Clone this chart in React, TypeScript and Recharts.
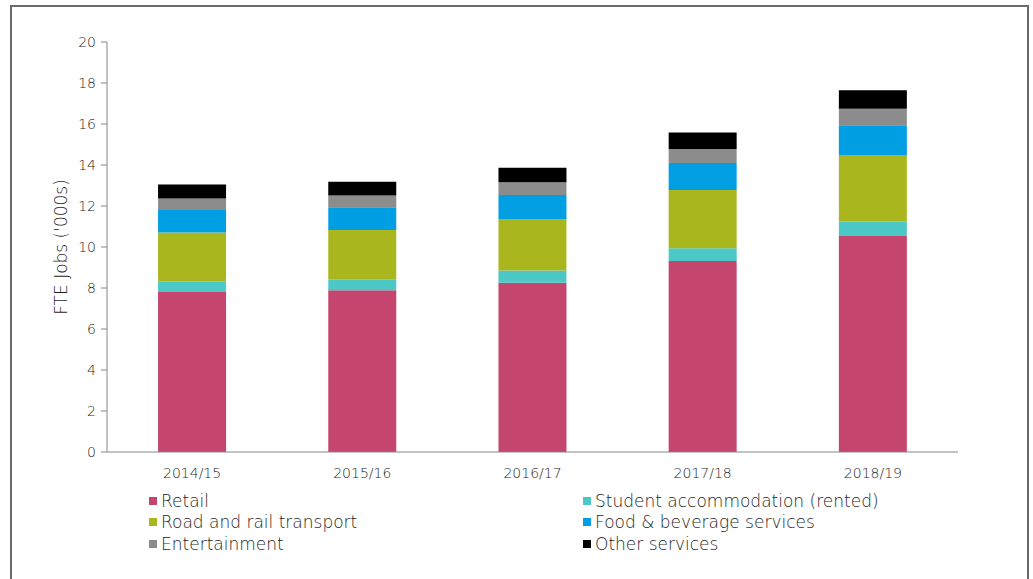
import React from "react";
import { BarChart, Bar, XAxis, YAxis } from "recharts";

const categories = ["2014/15", "2015/16", "2016/17", "2017/18", "2018/19"];
const retail = [7.8, 7.89, 8.26, 9.32, 10.54];
const student = [0.52, 0.54, 0.59, 0.62, 0.72];
const road = [2.39, 2.4, 2.52, 2.84, 3.23];
const food = [1.09, 1.11, 1.17, 1.32, 1.45];
const entertainment = [0.57, 0.57, 0.62, 0.68, 0.8];
const other = [0.68, 0.67, 0.71, 0.81, 0.91];
const yTicks = [0, 2, 4, 6, 8, 10, 12, 14, 16, 18, 20];

const series = [
  { key: "retail", name: "Retail", color: "#C4456E" },
  { key: "student", name: "Student accommodation (rented)", color: "#4CC8C6" },
  { key: "road", name: "Road and rail transport", color: "#AAB61E" },
  { key: "food", name: "Food & beverage services", color: "#009FE3" },
  { key: "entertainment", name: "Entertainment", color: "#8C8C8C" },
  { key: "other", name: "Other services", color: "#000000" },
];

const data = categories.map((c, i) => ({
  category: c,
  retail: retail[i],
  student: student[i],
  road: road[i],
  food: food[i],
  entertainment: entertainment[i],
  other: other[i],
}));

const FONT = "'DejaVu Sans', sans-serif";
const TEXT = "#1e1e1e";

export default function App() {
  return (
    <div
      style={{
        position: "absolute",
        left: 0,
        top: 0,
        width: 1033,
        height: 579,
        background: "#fff",
        overflow: "hidden",
      }}
    >
      <div
        style={{
          position: "absolute",
          left: 10,
          top: 5,
          width: 1019,
          height: 600,
          border: "2px solid #6a6a6a",
          boxSizing: "border-box",
        }}
      />
      <BarChart
        width={1033}
        height={579}
        data={data}
        margin={{ top: 42, right: 75, left: 47, bottom: 97 }}
        barCategoryGap="30%"
      >
        <XAxis
          dataKey="category"
          height={30}
          axisLine={{ stroke: "#868686" }}
          tickLine={false}
          tickMargin={10}
          tick={{ fill: TEXT, fontSize: 14, fontFamily: FONT, fontWeight: 200 }}
        />
        <YAxis
          width={60}
          domain={[0, 20]}
          ticks={yTicks}
          interval={0}
          axisLine={{ stroke: "#868686" }}
          tickLine={{ stroke: "#868686" }}
          tickSize={6}
          tickMargin={5}
          tick={{ fill: TEXT, fontSize: 14, fontFamily: FONT, fontWeight: 200 }}
          label={{
            value: "FTE Jobs ('000s)",
            angle: -90,
            position: "insideLeft",
            offset: 14,
            style: { textAnchor: "middle", fill: TEXT, fontSize: 17, fontFamily: FONT, fontWeight: 200 },
          }}
        />
        {series.map((s) => (
          <Bar
            key={s.key}
            dataKey={s.key}
            name={s.name}
            stackId="a"
            fill={s.color}
            isAnimationActive={false}
          />
        ))}
      </BarChart>
      <div
        style={{
          position: "absolute",
          left: 149,
          top: 490,
          display: "grid",
          gridTemplateColumns: "434px 420px",
          fontFamily: FONT,
          fontWeight: 200,
          fontSize: 17,
          color: TEXT,
        }}
      >
        {series.map((s) => (
          <div key={s.key} style={{ display: "flex", alignItems: "center", height: 21.5 }}>
            <span
              style={{
                display: "inline-block",
                width: 8,
                height: 8,
                background: s.color,
                marginRight: 4,
              }}
            />
            <span>{s.name}</span>
          </div>
        ))}
      </div>
    </div>
  );
}
